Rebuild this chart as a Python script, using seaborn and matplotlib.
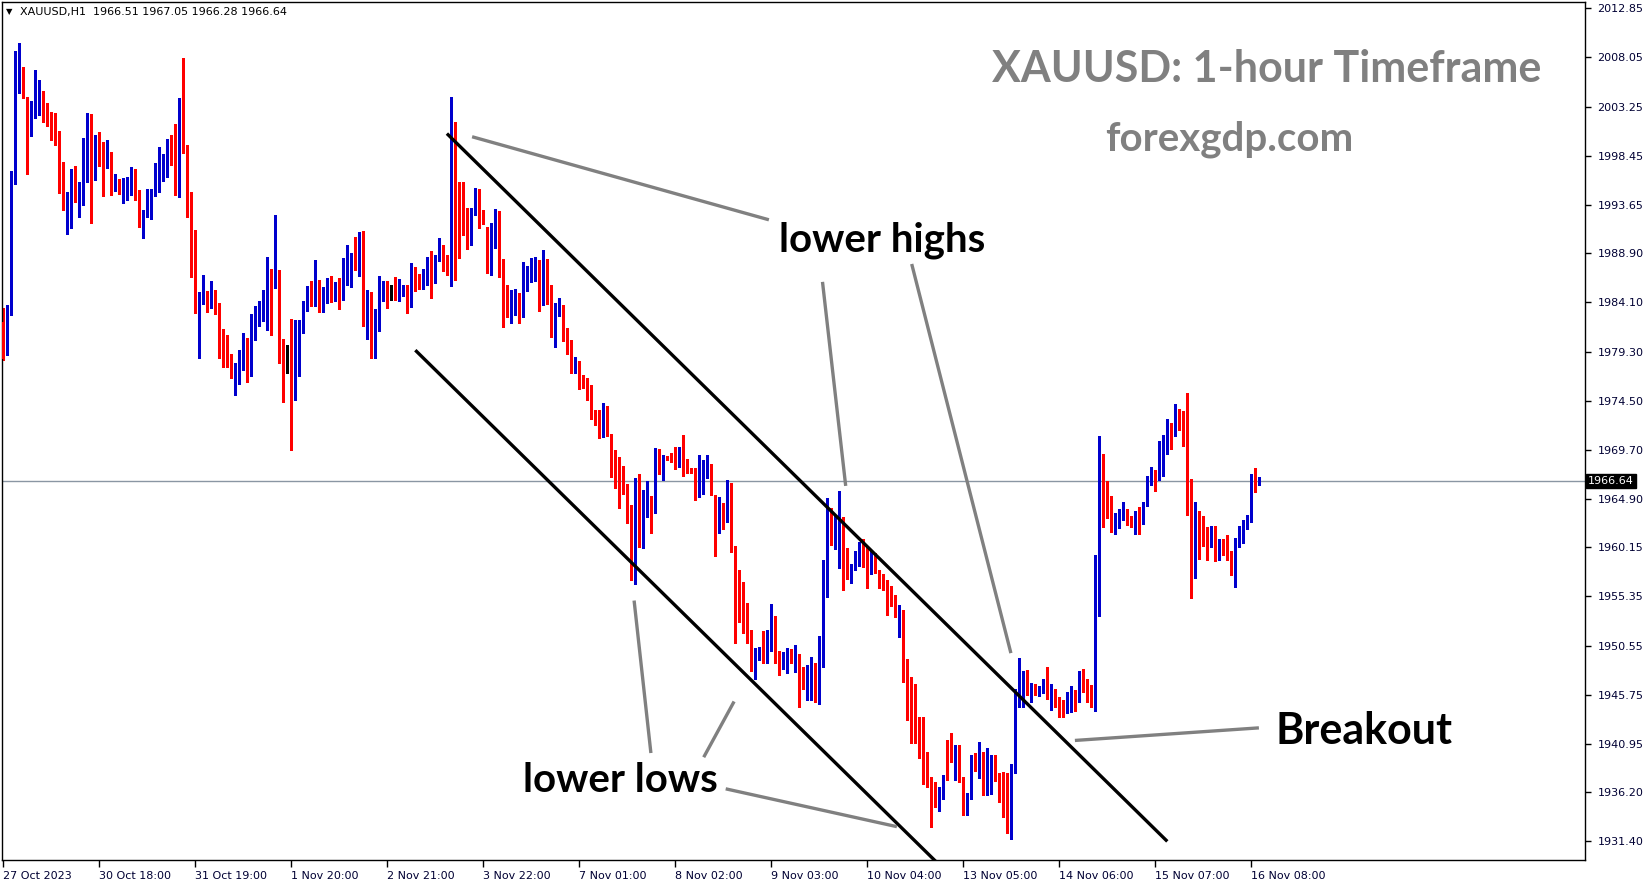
import matplotlib
matplotlib.use("Agg")
import matplotlib.pyplot as plt
import numpy as np
import pandas as pd
import seaborn as sns

# XAUUSD H1 candles (bar 0 = 27 Oct 2023)
OPEN = [
    1982.19, 1979.85, 1983.53, 1996.60, 2005.30, 2006.93, 2003.41, 2001.19, 2002.76, 2004.62,
    2004.68, 2002.82, 2002.04, 2001.45, 1999.60, 1995.58, 1993.66, 1993.63, 1996.56, 1994.45,
    1995.62, 1997.87, 1998.42, 1996.99, 1999.20, 1999.00, 1997.77, 1997.84, 1995.81, 1996.17,
    1995.03, 1995.42, 1995.52, 1996.37, 1994.51, 1992.07, 1992.66, 1992.95, 1994.80, 1996.07,
    1997.05, 1997.44, 1999.99, 1999.89, 1995.58, 2002.63, 1999.20, 1994.32, 1990.80, 1984.14,
    1984.57, 1984.79, 1983.68, 1984.79, 1983.68, 1979.94, 1979.54, 1978.27, 1977.00, 1977.49,
    1979.00, 1980.23, 1976.90, 1982.58, 1982.58, 1983.16, 1983.45, 1986.49, 1985.61, 1986.58,
    1979.25, 1977.88, 1977.88, 1974.88, 1978.37, 1982.09, 1983.75, 1985.02, 1984.56, 1986.19,
    1983.68, 1985.35, 1986.10, 1985.35, 1985.61, 1985.31, 1986.78, 1988.15, 1988.83, 1988.44,
    1990.30, 1984.24, 1984.34, 1981.01, 1981.70, 1985.00, 1985.90, 1985.32, 1986.00, 1984.83,
    1984.93, 1985.61, 1983.85, 1987.37, 1985.80, 1985.71, 1987.00, 1987.66, 1986.49, 1988.44,
    1989.23, 1988.25, 1987.57, 2000.28, 1995.49, 1994.41, 1991.77, 1990.30, 1993.04, 1995.09,
    1992.65, 1991.48, 1988.35, 1991.00, 1992.16, 1987.08, 1985.22, 1983.66, 1983.75, 1984.24,
    1983.36, 1986.00, 1986.69, 1987.18, 1987.66, 1984.34, 1986.39, 1984.83, 1981.11, 1983.45,
    1983.65, 1981.21, 1980.33, 1977.49, 1978.27, 1976.81, 1975.93, 1975.83, 1973.00, 1972.60,
    1971.33, 1973.58, 1971.14, 1969.38, 1966.74, 1966.45, 1966.15, 1963.90, 1958.72, 1966.64,
    1960.19, 1963.32, 1964.68, 1963.81, 1969.28, 1967.32, 1968.99, 1969.28, 1968.89, 1968.01,
    1968.69, 1968.69, 1967.81, 1967.72, 1965.47, 1967.13, 1967.62, 1968.20, 1965.27, 1961.95,
    1964.39, 1962.73, 1964.97, 1960.28, 1955.39, 1954.90, 1953.73, 1952.00, 1948.19, 1949.59,
    1950.90, 1950.70, 1951.87, 1953.34, 1949.98, 1949.20, 1949.46, 1950.01, 1949.14, 1949.33,
    1948.45, 1946.82, 1947.08, 1948.74, 1945.65, 1950.44, 1958.23, 1963.02, 1960.51, 1961.78,
    1963.02, 1958.46, 1957.19, 1958.06, 1959.04, 1960.51, 1959.14, 1958.16, 1959.43, 1957.77,
    1957.28, 1956.99, 1955.43, 1955.00, 1953.86, 1954.06, 1948.23, 1947.41, 1946.11, 1942.62,
    1942.03, 1939.46, 1936.75, 1935.97, 1935.39, 1935.87, 1940.96, 1940.37, 1939.20, 1940.37,
    1937.60, 1935.29, 1935.58, 1939.10, 1938.80, 1939.36, 1936.56, 1938.03, 1939.43, 1937.96,
    1936.33, 1938.06, 1932.65, 1938.32, 1945.72, 1946.10, 1947.97, 1946.11, 1946.60, 1945.95,
    1946.43, 1946.89, 1945.55, 1945.81, 1944.74, 1944.74, 1944.38, 1944.58, 1945.62, 1945.43,
    1947.29, 1946.80, 1945.92, 1945.04, 1954.33, 1967.62, 1964.40, 1964.20, 1962.05, 1962.63,
    1963.61, 1963.71, 1962.73, 1962.44, 1963.61, 1962.54, 1964.30, 1966.74, 1967.52, 1966.84,
    1969.58, 1970.17, 1971.53, 1971.44, 1973.10, 1973.00, 1971.63, 1965.47, 1957.46, 1963.13,
    1962.34, 1961.46, 1960.39, 1961.76, 1959.31, 1960.49, 1960.29, 1959.61, 1958.24, 1960.58,
    1961.27, 1962.54, 1962.83, 1966.84, 1966.51,
]
HIGH = [
    1983.60, 1983.82, 1996.95, 2008.69, 2009.44, 2007.12, 2004.16, 2003.80, 2006.83, 2005.85,
    2004.78, 2003.60, 2002.72, 2002.59, 2000.87, 1997.83, 1994.87, 1997.15, 1997.44, 1995.88,
    2000.21, 2002.63, 2002.53, 2000.47, 2000.77, 1999.79, 1999.99, 1998.81, 1996.66, 1996.17,
    1996.27, 1996.37, 1997.35, 1997.15, 1995.10, 1993.14, 1995.19, 1995.19, 1997.74, 1999.30,
    1998.62, 2000.08, 2000.47, 2001.55, 2004.09, 2008.00, 1999.50, 1994.90, 1991.19, 1985.12,
    1986.78, 1985.22, 1986.19, 1985.31, 1984.01, 1981.50, 1980.88, 1979.06, 1978.18, 1979.45,
    1981.08, 1980.65, 1982.97, 1983.75, 1984.24, 1985.31, 1988.54, 1987.37, 1992.65, 1987.27,
    1980.52, 1979.94, 1982.48, 1982.38, 1982.38, 1984.24, 1985.70, 1986.19, 1988.25, 1986.29,
    1985.61, 1986.49, 1986.68, 1986.10, 1986.49, 1988.44, 1989.71, 1988.93, 1990.49, 1990.98,
    1991.08, 1985.31, 1985.12, 1983.45, 1986.68, 1986.20, 1986.20, 1985.81, 1986.59, 1986.39,
    1985.81, 1985.81, 1987.96, 1987.57, 1986.88, 1987.37, 1988.54, 1989.13, 1988.74, 1990.40,
    1989.72, 1988.74, 2004.19, 2001.74, 1995.88, 1995.88, 1993.34, 1993.34, 1995.29, 1995.19,
    1993.14, 1991.48, 1991.87, 1993.24, 1993.04, 1988.35, 1985.81, 1985.32, 1985.42, 1985.03,
    1988.05, 1987.66, 1988.45, 1988.54, 1988.25, 1989.23, 1988.35, 1985.81, 1984.04, 1984.53,
    1983.85, 1981.60, 1980.43, 1978.76, 1978.37, 1977.00, 1976.71, 1976.03, 1973.58, 1973.58,
    1974.27, 1973.97, 1971.24, 1969.67, 1968.99, 1968.11, 1966.35, 1964.29, 1966.93, 1967.32,
    1965.76, 1966.64, 1965.17, 1969.87, 1969.77, 1969.18, 1969.08, 1969.38, 1969.97, 1969.97,
    1971.14, 1968.79, 1967.91, 1967.91, 1969.18, 1968.69, 1969.18, 1968.30, 1965.27, 1965.08,
    1964.49, 1966.74, 1966.44, 1960.28, 1957.93, 1956.76, 1954.71, 1952.10, 1950.31, 1950.41,
    1951.97, 1952.07, 1954.61, 1953.44, 1949.98, 1949.92, 1950.31, 1950.21, 1950.60, 1949.72,
    1948.45, 1948.65, 1949.43, 1948.84, 1951.48, 1958.91, 1964.97, 1963.99, 1963.21, 1965.66,
    1963.12, 1960.09, 1958.55, 1959.82, 1960.71, 1960.99, 1960.22, 1959.82, 1959.63, 1957.97,
    1957.58, 1956.99, 1956.40, 1955.52, 1954.55, 1954.06, 1949.27, 1947.51, 1946.79, 1943.60,
    1943.60, 1940.14, 1937.73, 1937.24, 1936.75, 1937.93, 1941.35, 1941.97, 1940.86, 1940.86,
    1937.73, 1936.10, 1939.88, 1940.08, 1941.12, 1940.11, 1940.50, 1939.82, 1939.82, 1938.06,
    1938.19, 1938.06, 1939.00, 1946.30, 1949.30, 1948.10, 1948.16, 1946.89, 1946.79, 1946.63,
    1947.28, 1948.42, 1946.79, 1946.27, 1945.49, 1945.23, 1946.00, 1946.60, 1946.21, 1948.07,
    1948.27, 1947.29, 1946.70, 1959.41, 1971.04, 1969.29, 1966.65, 1965.18, 1963.52, 1963.91,
    1964.59, 1963.91, 1963.22, 1963.71, 1964.10, 1964.59, 1967.13, 1968.01, 1967.72, 1970.56,
    1971.14, 1972.71, 1972.32, 1974.17, 1973.68, 1973.49, 1975.25, 1966.84, 1964.59, 1963.71,
    1963.22, 1962.15, 1962.25, 1962.25, 1960.97, 1960.97, 1961.37, 1959.80, 1961.07, 1962.25,
    1962.83, 1963.32, 1967.33, 1967.92, 1967.05,
]
LOW = [
    1978.50, 1978.97, 1982.87, 1995.68, 2004.61, 2004.12, 1996.66, 2000.38, 2002.17, 2002.43,
    2001.78, 2001.35, 1999.99, 1999.46, 1994.77, 1993.14, 1990.83, 1991.41, 1993.92, 1992.46,
    1993.63, 1995.88, 1991.90, 1996.07, 1997.48, 1994.54, 1997.28, 1994.64, 1995.00, 1994.74,
    1993.86, 1994.15, 1994.64, 1994.15, 1991.48, 1990.40, 1992.46, 1992.26, 1994.51, 1994.90,
    1995.98, 1996.37, 1997.54, 1994.61, 1994.41, 1998.71, 1992.46, 1986.59, 1983.07, 1978.67,
    1983.94, 1983.13, 1983.59, 1983.00, 1978.70, 1977.82, 1977.82, 1976.74, 1975.08, 1976.12,
    1977.49, 1976.32, 1976.90, 1980.42, 1981.79, 1982.28, 1981.40, 1980.91, 1985.51, 1978.18,
    1974.40, 1977.20, 1969.67, 1974.59, 1976.90, 1981.14, 1983.26, 1983.75, 1983.75, 1983.16,
    1983.16, 1984.04, 1984.10, 1984.24, 1983.49, 1984.34, 1985.80, 1985.61, 1987.27, 1986.68,
    1981.79, 1980.52, 1978.67, 1978.67, 1981.34, 1984.24, 1983.56, 1984.34, 1984.34, 1984.24,
    1984.73, 1983.07, 1983.66, 1985.22, 1985.41, 1985.41, 1985.81, 1984.54, 1986.00, 1988.15,
    1987.18, 1986.79, 1985.71, 1986.30, 1988.45, 1990.70, 1989.33, 1989.72, 1992.65, 1991.38,
    1991.77, 1986.98, 1986.79, 1989.43, 1986.59, 1981.70, 1982.68, 1982.09, 1982.87, 1982.09,
    1982.68, 1985.22, 1986.10, 1986.20, 1983.26, 1983.85, 1983.95, 1980.72, 1979.77, 1982.77,
    1980.33, 1979.06, 1977.20, 1977.20, 1975.63, 1975.73, 1974.56, 1972.70, 1972.12, 1970.84,
    1970.94, 1971.04, 1967.03, 1965.96, 1964.00, 1965.37, 1962.53, 1956.96, 1956.57, 1960.19,
    1960.09, 1963.12, 1961.56, 1963.51, 1967.32, 1966.74, 1968.69, 1968.50, 1967.81, 1968.01,
    1967.13, 1967.42, 1967.42, 1964.78, 1965.07, 1965.37, 1966.93, 1965.27, 1959.31, 1961.56,
    1961.95, 1962.63, 1959.73, 1950.83, 1952.88, 1951.81, 1950.83, 1948.09, 1947.31, 1949.14,
    1948.81, 1948.81, 1950.01, 1948.81, 1947.64, 1948.22, 1947.90, 1948.81, 1947.96, 1944.51,
    1946.27, 1945.19, 1945.19, 1944.99, 1944.80, 1948.48, 1955.33, 1960.41, 1960.02, 1958.16,
    1956.01, 1957.09, 1956.70, 1957.97, 1958.36, 1958.26, 1956.21, 1957.58, 1957.67, 1956.21,
    1956.01, 1953.57, 1954.45, 1953.37, 1951.42, 1947.02, 1943.30, 1941.02, 1941.06, 1939.52,
    1937.05, 1936.75, 1932.84, 1934.80, 1934.41, 1935.58, 1937.44, 1939.20, 1937.41, 1937.24,
    1933.95, 1934.02, 1935.58, 1938.32, 1937.60, 1935.94, 1935.94, 1936.00, 1937.31, 1935.26,
    1933.82, 1932.19, 1931.60, 1938.06, 1944.58, 1944.58, 1945.72, 1945.07, 1945.72, 1945.65,
    1945.95, 1945.36, 1944.25, 1944.54, 1943.60, 1943.60, 1943.93, 1944.09, 1944.19, 1945.04,
    1946.02, 1945.04, 1944.55, 1944.16, 1953.45, 1962.15, 1963.03, 1961.66, 1961.46, 1962.05,
    1962.83, 1962.34, 1962.15, 1961.46, 1961.46, 1962.44, 1964.20, 1966.25, 1965.67, 1966.74,
    1967.13, 1969.29, 1969.77, 1971.04, 1971.63, 1970.07, 1963.32, 1955.21, 1957.16, 1959.02,
    1960.29, 1958.92, 1960.19, 1958.82, 1958.92, 1959.41, 1958.92, 1957.46, 1956.28, 1960.19,
    1960.58, 1961.95, 1962.64, 1965.57, 1966.28,
]
CLOSE = [
    1978.54, 1983.53, 1996.66, 2005.36, 2006.93, 2005.79, 2001.09, 2002.82, 2004.68, 2004.68,
    2002.85, 2002.07, 2001.39, 1999.50, 1995.52, 1993.66, 1993.76, 1996.56, 1994.45, 1995.68,
    1997.93, 1998.42, 1996.99, 1999.20, 1998.94, 1997.77, 1997.84, 1995.81, 1996.24, 1994.93,
    1995.58, 1995.62, 1996.37, 1994.45, 1992.07, 1992.75, 1992.95, 1994.90, 1996.17, 1997.05,
    1997.54, 1999.99, 1999.79, 1995.58, 2002.43, 1999.10, 1994.22, 1990.70, 1984.05, 1984.60,
    1984.89, 1983.68, 1984.79, 1983.59, 1979.87, 1979.48, 1978.18, 1976.94, 1977.59, 1979.06,
    1980.23, 1976.90, 1982.58, 1982.67, 1983.26, 1983.55, 1986.49, 1985.61, 1986.58, 1979.25,
    1977.82, 1977.88, 1974.88, 1978.47, 1981.40, 1983.75, 1985.12, 1984.56, 1986.29, 1983.68,
    1985.41, 1986.10, 1985.35, 1985.70, 1985.35, 1986.88, 1988.15, 1988.83, 1988.44, 1990.40,
    1984.24, 1984.43, 1981.01, 1981.79, 1985.12, 1985.90, 1985.22, 1985.32, 1984.83, 1984.93,
    1985.61, 1983.75, 1987.37, 1985.71, 1985.71, 1987.08, 1987.66, 1986.49, 1988.64, 1989.23,
    1988.15, 1987.57, 2000.18, 1995.39, 1994.31, 1991.58, 1990.30, 1993.14, 1995.09, 1993.04,
    1992.26, 1988.35, 1991.09, 1992.07, 1986.98, 1985.12, 1983.66, 1983.85, 1984.24, 1983.36,
    1986.00, 1986.79, 1987.27, 1987.66, 1984.34, 1986.39, 1984.80, 1981.11, 1983.55, 1983.75,
    1981.11, 1980.33, 1977.49, 1978.08, 1976.61, 1975.83, 1975.73, 1972.89, 1972.51, 1971.24,
    1973.68, 1971.04, 1969.28, 1966.74, 1966.35, 1966.15, 1963.81, 1959.01, 1966.64, 1960.19,
    1963.42, 1964.68, 1963.81, 1969.28, 1967.32, 1968.99, 1968.79, 1968.89, 1968.01, 1968.60,
    1968.60, 1967.72, 1967.62, 1965.47, 1967.23, 1967.72, 1968.20, 1965.27, 1961.85, 1964.39,
    1962.73, 1964.88, 1960.22, 1955.23, 1954.84, 1953.67, 1951.87, 1948.19, 1949.59, 1950.41,
    1950.70, 1952.07, 1953.34, 1949.98, 1949.27, 1949.53, 1950.21, 1949.27, 1949.33, 1948.42,
    1946.82, 1947.18, 1948.84, 1945.65, 1950.50, 1958.23, 1963.02, 1960.61, 1961.85, 1963.31,
    1958.36, 1957.19, 1958.55, 1959.14, 1960.61, 1959.04, 1958.16, 1959.43, 1957.67, 1957.19,
    1956.89, 1955.43, 1954.94, 1953.86, 1954.06, 1948.19, 1947.31, 1946.04, 1942.52, 1941.94,
    1939.39, 1936.75, 1935.39, 1935.39, 1935.97, 1937.83, 1940.37, 1939.20, 1940.37, 1937.41,
    1935.29, 1935.78, 1939.20, 1938.51, 1938.90, 1936.56, 1938.22, 1939.43, 1937.93, 1936.23,
    1935.97, 1932.65, 1938.38, 1945.72, 1946.20, 1947.97, 1946.11, 1946.70, 1946.01, 1946.53,
    1946.79, 1945.55, 1945.81, 1944.64, 1944.64, 1944.38, 1944.64, 1945.62, 1945.43, 1947.29,
    1946.80, 1945.82, 1945.04, 1954.42, 1967.62, 1964.40, 1964.10, 1962.15, 1962.73, 1963.81,
    1963.81, 1963.13, 1962.34, 1963.61, 1962.54, 1964.40, 1966.84, 1967.52, 1966.84, 1969.68,
    1970.26, 1971.53, 1971.44, 1973.10, 1972.90, 1971.53, 1965.37, 1957.46, 1963.13, 1961.37,
    1961.37, 1960.39, 1961.76, 1959.31, 1959.44, 1960.23, 1959.51, 1958.24, 1960.68, 1961.37,
    1962.73, 1962.93, 1966.84, 1966.48, 1966.64,
]
PRICE_TICKS = [2012.85, 2008.05, 2003.25, 1998.45, 1993.65, 1988.90, 1984.10, 1979.30, 1974.50,
               1969.70, 1964.90, 1960.15, 1955.35, 1950.55, 1945.75, 1940.95, 1936.20, 1931.40]
TIME_LABELS = ["27 Oct 2023", "30 Oct 18:00", "31 Oct 19:00", "1 Nov 20:00", "2 Nov 21:00",
               "3 Nov 22:00", "7 Nov 01:00", "8 Nov 02:00", "9 Nov 03:00", "10 Nov 04:00",
               "13 Nov 05:00", "14 Nov 06:00", "15 Nov 07:00", "16 Nov 08:00"]
LAST_PRICE = 1966.64
HEADER = "XAUUSD,H1  1966.51 1967.05 1966.28 1966.64"

# channel lines and pointer lines as (bar, price) pairs
UPPER_LINE = [(110.9, 2000.61), (291.0, 1931.40)]
LOWER_LINE = [(103.0, 1979.43), (240.0, 1926.80)]
POINTERS = [
    [(117.2, 2000.30), (191.4, 1992.18)],
    [(204.8, 1986.11), (210.6, 1966.16)],
    [(227.1, 1987.86), (251.9, 1949.81)],
    [(157.7, 1954.95), (161.9, 1940.04)],
    [(182.7, 1945.08), (175.1, 1939.63)],
    [(180.6, 1936.54), (223.4, 1932.84)],
    [(267.9, 1941.27), (313.9, 1942.50)],
]

df = pd.DataFrame({"open": OPEN, "high": HIGH, "low": LOW, "close": CLOSE})
df["bar"] = np.arange(len(df))
df["color"] = np.where(df["close"] > df["open"], "#0000CD",
                       np.where(df["close"] < df["open"], "#FF0000", "#000000"))

sns.set_theme(style="white")
plt.rcParams["font.family"] = ["DejaVu Sans"]

W, H = 1649, 884
fig = plt.figure(figsize=(W / 100, H / 100), dpi=100)
ax = fig.add_axes([2 / W, 24 / H, (1585 - 2) / W, (860 - 2) / H])

px_per_unit = 10.227
ax.set_xlim((2 - 3.3) / 4, (1585 - 3.3) / 4)
ax.set_ylim(2012.85 - (860 - 8.4) / px_per_unit, 2012.85 + (8.4 - 2) / px_per_unit)

ax.axhline(LAST_PRICE, color="#8a96a3", lw=1, zorder=1)

# candles: wicks then bodies
ax.vlines(df["bar"], df["low"], df["high"], colors=df["color"], lw=1, antialiased=False, zorder=2)
body_lo = df[["open", "close"]].min(axis=1)
body_h = (df["open"] - df["close"]).abs().clip(lower=0.1)
ax.bar(df["bar"], body_h, bottom=body_lo, width=0.7, color=df["color"], lw=0,
       antialiased=False, zorder=3)

for (x0, y0), (x1, y1) in [UPPER_LINE, LOWER_LINE]:
    ax.plot([x0, x1], [y0, y1], color="black", lw=2.4, solid_capstyle="butt", zorder=4)
for (x0, y0), (x1, y1) in POINTERS:
    ax.plot([x0, x1], [y0, y1], color="#808080", lw=2.4, solid_capstyle="butt", zorder=4)

for s in ax.spines.values():
    s.set_visible(True)
    s.set_color("black")
    s.set_linewidth(1)

ax.yaxis.tick_right()
ax.set_yticks(PRICE_TICKS)
ax.set_yticklabels([f"{v:.2f}" for v in PRICE_TICKS])
ax.tick_params(axis="y", direction="out", length=4, width=1, color="black",
               labelsize=8, labelcolor="#000033", pad=5, right=True)
ax.set_xticks(np.arange(len(TIME_LABELS)) * 24)
ax.set_xticklabels(TIME_LABELS)
ax.tick_params(axis="x", direction="out", length=5, width=1, color="black",
               labelsize=8, labelcolor="#000033", pad=3, bottom=True)
for lab in ax.get_xticklabels():
    lab.set_ha("left")
ax.grid(False)

ax.text(1.002, LAST_PRICE, f"{LAST_PRICE:.2f}", transform=ax.get_yaxis_transform(),
        ha="left", va="center", fontsize=8, color="white", zorder=6,
        bbox=dict(boxstyle="square,pad=0.15", fc="black", ec="black"))


def fx(x):
    return x / W


def fy(y):
    return 1 - y / H


fig.text(fx(6), fy(12), "\u25bc", fontsize=6, va="center", ha="left", color="black")
fig.text(fx(20), fy(12), HEADER, fontsize=8, va="center", ha="left", color="black")

title_font = ["Lato", "DejaVu Sans"]
fig.text(fx(1267), fy(69), "XAUUSD: 1-hour Timeframe", fontsize=31, fontweight="bold",
         color="#808080", ha="center", va="center", family=title_font)
fig.text(fx(1229), fy(139), "forexgdp.com", fontsize=29, fontweight="bold",
         color="#808080", ha="center", va="center", family=title_font)
fig.text(fx(882), fy(240), "lower highs", fontsize=29, fontweight="bold",
         color="black", ha="center", va="center", family=title_font)
fig.text(fx(620), fy(780), "lower lows", fontsize=29, fontweight="bold",
         color="black", ha="center", va="center", family=title_font)
fig.text(fx(1364), fy(731), "Breakout", fontsize=31, fontweight="bold",
         color="black", ha="center", va="center", family=title_font)

fig.savefig("out.png", dpi=100, facecolor="white")
